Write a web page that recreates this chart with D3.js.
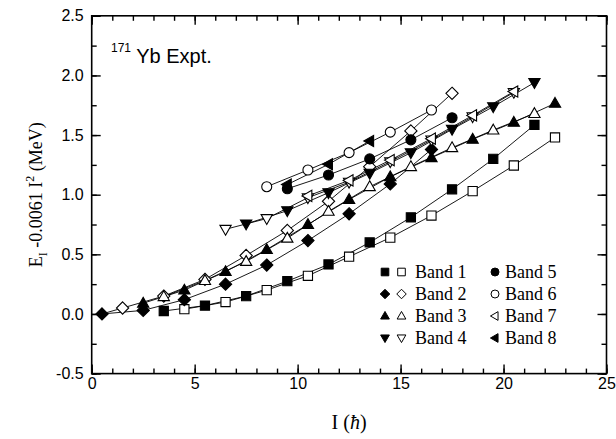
<!DOCTYPE html>
<html>
<head>
<meta charset="utf-8">
<script src="https://cdn.jsdelivr.net/npm/d3@7/dist/d3.min.js"></script>
<style>
  html, body { margin: 0; padding: 0; background: #fff; }
  svg { display: block; }
</style>
</head>
<body>
<svg id="chart" width="616" height="439"></svg>
<script>
// 171Yb rotational bands: E_I - 0.0061 I^2 (MeV) versus spin I (hbar)
// Each band has two signature branches (filled / open symbols).
const band1Filled = [[3.5,0.025],[5.5,0.07],[7.5,0.15],[9.5,0.275],[11.5,0.415],[13.5,0.60],[15.5,0.81],[17.5,1.045],[19.5,1.30],[21.5,1.585]];
const band1Open   = [[4.5,0.04],[6.5,0.10],[8.5,0.20],[10.5,0.32],[12.5,0.48],[14.5,0.64],[16.5,0.825],[18.5,1.03],[20.5,1.245],[22.5,1.48]];

const band2Filled = [[0.5,0.0],[2.5,0.03],[4.5,0.12],[6.5,0.25],[8.5,0.41],[10.5,0.615],[12.5,0.84],[14.5,1.09],[16.5,1.38]];
const band2Open   = [[1.5,0.05],[3.5,0.15],[5.5,0.29],[7.5,0.49],[9.5,0.70],[11.5,0.945],[13.5,1.235],[15.5,1.535],[17.5,1.85]];

const band3Filled = [[2.5,0.09],[4.5,0.20],[6.5,0.355],[8.5,0.54],[10.5,0.75],[12.5,0.96],[14.5,1.15],[16.5,1.31],[18.5,1.465],[20.5,1.607],[22.5,1.766]];
const band3Open   = [[3.5,0.145],[5.5,0.28],[7.5,0.44],[9.5,0.635],[11.5,0.86],[13.5,1.067],[15.5,1.235],[17.5,1.394],[19.5,1.542],[21.5,1.68]];

const band4Filled = [[7.5,0.755],[9.5,0.866],[11.5,1.017],[13.5,1.18],[15.5,1.352],[17.5,1.548],[19.5,1.738],[21.5,1.94]];
const band4Open   = [[6.5,0.71],[8.5,0.80],[10.5,0.975],[12.5,1.105],[14.5,1.277],[16.5,1.459],[18.5,1.654],[20.5,1.858]];

const band5 = [[9.5,1.05],[11.5,1.165],[13.5,1.30],[15.5,1.46],[17.5,1.645]];
const band6 = [[8.5,1.067],[10.5,1.207],[12.5,1.353],[14.5,1.525],[16.5,1.71]];
const band7 = [[10.5,0.99],[12.5,1.12],[14.5,1.29],[16.5,1.47],[18.5,1.665],[20.5,1.865]];
const band8 = [[9.5,1.085],[11.5,1.255],[13.5,1.45]];

const xTicks = [0, 5, 10, 15, 20, 25];
const yTicks = [-0.5, 0.0, 0.5, 1.0, 1.5, 2.0, 2.5];
const legendLabels = ["Band 1","Band 2","Band 3","Band 4","Band 5","Band 6","Band 7","Band 8"];

// series: data, marker shape, filled?
const series = [
  { data: band1Filled, shape: "square",   filled: true },
  { data: band1Open,   shape: "square",   filled: false },
  { data: band2Filled, shape: "diamond",  filled: true },
  { data: [band2Filled[0]].concat(band2Open), shape: "diamond", filled: false, skipFirstMarker: true },
  { data: band3Filled, shape: "triUp",    filled: true },
  { data: band3Open,   shape: "triUp",    filled: false },
  { data: band4Filled, shape: "triDown",  filled: true },
  { data: band4Open,   shape: "triDown",  filled: false },
  { data: band5,       shape: "circle",   filled: true },
  { data: band6,       shape: "circle",   filled: false },
  { data: band7,       shape: "triLeft",  filled: false },
  { data: band8,       shape: "triLeft",  filled: true }
];

const svg = d3.select("#chart");
const W = 616, H = 439;
const margin = { left: 91.7, right: 9.5, top: 15.8, bottom: 65.4 };
const x = d3.scaleLinear().domain([0, 25]).range([margin.left, W - margin.right]);
const y = d3.scaleLinear().domain([-0.5, 2.5]).range([H - margin.bottom, margin.top]);

// marker path generators, r = half size
function shapePath(shape, r) {
  switch (shape) {
    case "square":  return `M${-r},${-r}H${r}V${r}H${-r}Z`;
    case "diamond": return `M0,${-r * 1.25}L${r * 1.25},0L0,${r * 1.25}L${-r * 1.25},0Z`;
    case "triUp":   return `M0,${-r * 1.2}L${r * 1.15},${r * 0.8}L${-r * 1.15},${r * 0.8}Z`;
    case "triDown": return `M0,${r * 1.2}L${r * 1.15},${-r * 0.8}L${-r * 1.15},${-r * 0.8}Z`;
    case "triLeft": return `M${-r * 1.2},0L${r * 0.8},${-r * 1.15}L${r * 0.8},${r * 1.15}Z`;
    case "circle":  return `M${r},0A${r},${r} 0 1,1 ${-r},0A${r},${r} 0 1,1 ${r},0Z`;
  }
}

// frame
svg.append("rect")
  .attr("x", margin.left).attr("y", margin.top)
  .attr("width", W - margin.left - margin.right)
  .attr("height", H - margin.top - margin.bottom)
  .attr("fill", "none").attr("stroke", "#000").attr("stroke-width", 1.6);

const tickFont = "'Liberation Sans', Arial, Helvetica, sans-serif";
const xMinor = d3.range(0, 26, 1);
const yMinor = d3.range(-0.5, 2.51, 0.25);

function styleAxis(g) {
  g.select(".domain").remove();
  g.selectAll("line").attr("stroke", "#000").attr("stroke-width", 1.4);
  g.selectAll("text").attr("font-family", tickFont).attr("font-size", 16).attr("fill", "#000");
}

// bottom axis: labelled majors + minors, ticks pointing inward
svg.append("g").attr("transform", `translate(0,${y(-0.5)})`)
  .call(d3.axisBottom(x).tickValues(xMinor).tickSize(-5).tickFormat(""))
  .call(styleAxis);
svg.append("g").attr("transform", `translate(0,${y(-0.5)})`)
  .call(d3.axisBottom(x).tickValues(xTicks).tickSize(-9).tickPadding(4).tickFormat(d3.format("d")))
  .call(styleAxis);
// top axis
svg.append("g").attr("transform", `translate(0,${y(2.5)})`)
  .call(d3.axisTop(x).tickValues(xMinor).tickSize(-5).tickFormat(""))
  .call(styleAxis);
svg.append("g").attr("transform", `translate(0,${y(2.5)})`)
  .call(d3.axisTop(x).tickValues(xTicks).tickSize(-9).tickFormat(""))
  .call(styleAxis);
// left axis
svg.append("g").attr("transform", `translate(${x(0)},0)`)
  .call(d3.axisLeft(y).tickValues(yMinor).tickSize(-5).tickFormat(""))
  .call(styleAxis);
svg.append("g").attr("transform", `translate(${x(0)},0)`)
  .call(d3.axisLeft(y).tickValues(yTicks).tickSize(-9).tickPadding(8).tickFormat(d => d.toFixed(1)))
  .call(styleAxis);
// right axis
svg.append("g").attr("transform", `translate(${x(25)},0)`)
  .call(d3.axisRight(y).tickValues(yMinor).tickSize(-5).tickFormat(""))
  .call(styleAxis);
svg.append("g").attr("transform", `translate(${x(25)},0)`)
  .call(d3.axisRight(y).tickValues(yTicks).tickSize(-9).tickFormat(""))
  .call(styleAxis);

// connecting lines
const line = d3.line().x(d => x(d[0])).y(d => y(d[1]));
const lines = svg.append("g");
series.forEach(s => {
  lines.append("path").attr("d", line(s.data))
    .attr("fill", "none").attr("stroke", "#000").attr("stroke-width", 0.9);
});

// markers
const marks = svg.append("g");
series.forEach(s => {
  const pts = s.skipFirstMarker ? s.data.slice(1) : s.data;
  const r = s.shape === "circle" ? 5 : (s.shape === "square" ? 4.6 : 4.9);
  marks.selectAll(null).data(pts).enter().append("path")
    .attr("transform", d => `translate(${x(d[0])},${y(d[1])})`)
    .attr("d", shapePath(s.shape, r))
    .attr("fill", s.filled ? "#000" : "#fff")
    .attr("stroke", "#000").attr("stroke-width", 1.1);
});

// label in the top-left corner
const serif = "'Liberation Serif', 'Times New Roman', Times, serif";
const lab = svg.append("text").attr("x", 111).attr("y", 63)
  .attr("font-family", tickFont).attr("font-size", 20).attr("fill", "#000");
lab.append("tspan").attr("font-size", 12).attr("dy", -11).text("171");
lab.append("tspan").attr("dy", 11).text(" Yb Expt.");

// axis titles
const xt = svg.append("text")
  .attr("x", (x(0) + x(25)) / 2).attr("y", 429)
  .attr("text-anchor", "middle").attr("font-family", serif).attr("font-size", 20);
xt.append("tspan").text("I (");
xt.append("tspan").attr("font-style", "italic").text("ħ");
xt.append("tspan").text(")");

const yt = svg.append("text")
  .attr("transform", `translate(42,${(y(-0.5) + y(2.5)) / 2}) rotate(-90)`)
  .attr("text-anchor", "middle").attr("font-family", serif).attr("font-size", 18);
yt.append("tspan").text("E");
yt.append("tspan").attr("font-size", 12).attr("dy", 5).text("I");
yt.append("tspan").attr("dy", -5).text(" -0.0061 I");
yt.append("tspan").attr("font-size", 12).attr("dy", -8).text("2");
yt.append("tspan").attr("dy", 8).text("  (MeV)");

// legend
const legend = svg.append("g");
const rowY = [272, 294, 316, 338];
const legendShapes = ["square", "diamond", "triUp", "triDown"];
legendShapes.forEach((shape, i) => {
  legend.append("path").attr("transform", `translate(385,${rowY[i]})`)
    .attr("d", shapePath(shape, 3.8)).attr("fill", "#000").attr("stroke", "#000");
  legend.append("path").attr("transform", `translate(401.5,${rowY[i]})`)
    .attr("d", shapePath(shape, 3.8)).attr("fill", "#fff").attr("stroke", "#000").attr("stroke-width", 1);
  legend.append("text").attr("x", 415).attr("y", rowY[i] + 6)
    .attr("font-family", serif).attr("font-size", 18).text(legendLabels[i]);
});
const col2 = [
  { shape: "circle", filled: true }, { shape: "circle", filled: false },
  { shape: "triLeft", filled: false }, { shape: "triLeft", filled: true }
];
col2.forEach((m, i) => {
  legend.append("path").attr("transform", `translate(495,${rowY[i]})`)
    .attr("d", shapePath(m.shape, m.shape === "circle" ? 4 : 3.8))
    .attr("fill", m.filled ? "#000" : "#fff").attr("stroke", "#000").attr("stroke-width", 1);
  legend.append("text").attr("x", 505).attr("y", rowY[i] + 6)
    .attr("font-family", serif).attr("font-size", 18).text(legendLabels[i + 4]);
});
</script>
</body>
</html>
